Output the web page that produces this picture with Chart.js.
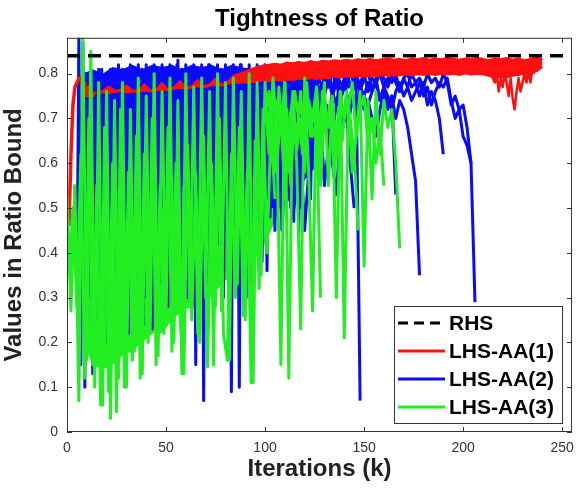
<!DOCTYPE html>
<html>
<head>
<meta charset="utf-8">
<script src="https://cdn.jsdelivr.net/npm/chart.js@4.4.1/dist/chart.umd.min.js"></script>
<style>
  body { margin: 0; background: #fff; }
  #wrap { width: 582px; height: 489px; }
</style>
</head>
<body>
<div id="wrap"><canvas id="chart" width="582" height="489"></canvas></div>
<script>
// ! AXIS DATA
const xTickValues = [0, 50, 100, 150, 200, 250];
const yTickValues = [0, 0.1, 0.2, 0.3, 0.4, 0.5, 0.6, 0.7, 0.8];
const xMax = 255;
const yMax = 0.88;
const rhsValue = 0.84;

// ! RED : LHS-AA(1)
const redStart = [0.46, 0.62, 0.73, 0.77, 0.78, 0.79, 0.79, 0.77, 0.78, 0.75, 0.77, 0.755, 0.75, 0.76]; // it 1..14
const redHigh = [0.759, 0.761, 0.772, 0.762, 0.764, 0.774, 0.763, 0.762, 0.776, 0.763, 0.765, 0.779, 0.765, 0.769,
  0.783, 0.769, 0.772, 0.786, 0.772, 0.776, 0.789, 0.776, 0.781, 0.795, 0.8, 0.805, 0.81, 0.815, 0.818, 0.82,
  0.822, 0.82, 0.825, 0.823, 0.826, 0.824, 0.828, 0.825, 0.829, 0.827, 0.83, 0.828, 0.831, 0.829, 0.832, 0.83,
  0.833, 0.83, 0.832, 0.834, 0.831, 0.833, 0.83, 0.834, 0.832, 0.835, 0.831, 0.834, 0.832, 0.835, 0.833, 0.831,
  0.834, 0.832, 0.835, 0.833, 0.83, 0.834, 0.832, 0.835, 0.831, 0.834, 0.83, 0.833, 0.836, 0.832]; // it 15..240 step 3
const redLow = [0.755, 0.758, 0.756, 0.759, 0.761, 0.758, 0.76, 0.759, 0.762, 0.76, 0.762, 0.765, 0.762, 0.766,
  0.768, 0.766, 0.769, 0.772, 0.769, 0.773, 0.775, 0.773, 0.777, 0.779, 0.779, 0.78, 0.781, 0.782, 0.785, 0.783,
  0.786, 0.784, 0.787, 0.786, 0.789, 0.787, 0.79, 0.788, 0.791, 0.79, 0.793, 0.791, 0.794, 0.792, 0.795, 0.793,
  0.796, 0.794, 0.797, 0.795, 0.797, 0.796, 0.798, 0.796, 0.799, 0.797, 0.799, 0.797, 0.8, 0.798, 0.8, 0.797,
  0.801, 0.798, 0.8, 0.798, 0.795, 0.79, 0.793, 0.792, 0.795, 0.797, 0.8, 0.802, 0.805, 0.815]; // it 15..240 step 3
const redDips = [0.8, 0.79, 0.78, 0.8, 0.76, 0.79, 0.77, 0.8, 0.78, 0.75, 0.79, 0.745, 0.72, 0.76, 0.79, 0.76,
  0.78, 0.8, 0.78, 0.81, 0.78, 0.81, 0.8]; // it 214..236

// ! BLUE : LHS-AA(2)
const blueA = [0.55, 0.3, 0.88, 0.15, 0.87, 0.1, 0.8, 0.4, 0.79, 0.13, 0.76, 0.45, 0.81, 0.12, 0.78, 0.35,
  0.8, 0.5, 0.81, 0.3, 0.8, 0.55, 0.82, 0.4, 0.81, 0.25, 0.8, 0.22, 0.82, 0.48, 0.8, 0.35, 0.82, 0.6, 0.81, 0.3,
  0.82, 0.45, 0.81, 0.23, 0.82, 0.55, 0.8, 0.38, 0.82, 0.5, 0.81, 0.28, 0.82, 0.62, 0.81, 0.42, 0.83, 0.35, 0.81,
  0.55, 0.82, 0.3, 0.81, 0.48, 0.82, 0.15, 0.8, 0.4, 0.82, 0.07, 0.81, 0.5, 0.82, 0.35, 0.8, 0.58, 0.82, 0.42,
  0.81, 0.3, 0.82, 0.55, 0.8, 0.09, 0.82, 0.45, 0.81, 0.1, 0.82, 0.38, 0.8, 0.52, 0.82, 0.33, 0.81, 0.6, 0.82,
  0.4, 0.8, 0.5, 0.82, 0.36, 0.81, 0.55, 0.8, 0.45, 0.81, 0.6, 0.79, 0.48, 0.8, 0.65, 0.79, 0.5, 0.8, 0.62, 0.78,
  0.44, 0.79, 0.55, 0.8, 0.68, 0.78, 0.52, 0.79]; // it 4..124
const blueB = [0.45, 0.8, 0.3, 0.78, 0.55, 0.8, 0.25, 0.77, 0.6, 0.81, 0.4, 0.79, 0.2, 0.8, 0.52, 0.78, 0.35,
  0.81, 0.62, 0.79, 0.44, 0.8, 0.28, 0.78, 0.58, 0.81, 0.38, 0.79, 0.5, 0.8, 0.24, 0.78, 0.63, 0.81, 0.42, 0.79,
  0.55, 0.8, 0.33, 0.78, 0.6, 0.81, 0.45, 0.79, 0.3, 0.8, 0.57, 0.82, 0.4, 0.79, 0.65, 0.81, 0.36, 0.8, 0.52,
  0.78, 0.28, 0.81, 0.6, 0.79, 0.44, 0.8, 0.33, 0.82, 0.56, 0.79, 0.4, 0.81, 0.62, 0.8, 0.35, 0.78, 0.5, 0.81,
  0.26, 0.79, 0.58, 0.8, 0.42, 0.82, 0.64, 0.79, 0.3, 0.81, 0.55, 0.8, 0.45, 0.78, 0.62, 0.81, 0.38, 0.8, 0.56,
  0.79, 0.48, 0.81, 0.64, 0.78, 0.52, 0.8, 0.45, 0.77, 0.66, 0.79, 0.55, 0.78, 0.47, 0.8, 0.6, 0.77, 0.5, 0.79,
  0.62, 0.76, 0.55, 0.78, 0.6]; // it 8.5..124.5
const blueRun1 = [0.8, 0.76, 0.79, 0.73, 0.78, 0.75, 0.8, 0.7, 0.77, 0.74, 0.79, 0.72, 0.76, 0.78, 0.73, 0.77,
  0.79, 0.75, 0.78, 0.74, 0.77, 0.79, 0.76, 0.78, 0.07];
const blueRun2 = [0.72, 0.65, 0.7, 0.58, 0.66, 0.52, 0.6, 0.48, 0.55, 0.62, 0.45, 0.58, 0.66, 0.6, 0.7, 0.55,
  0.64, 0.6, 0.53, 0.66, 0.72, 0.68, 0.75, 0.7, 0.76, 0.72, 0.74, 0.7, 0.66, 0.72, 0.76, 0.73, 0.75, 0.53];
const blueRun3 = [0.79, 0.77, 0.8, 0.78, 0.76, 0.79, 0.77, 0.8, 0.78, 0.75, 0.79, 0.77, 0.8, 0.78, 0.76, 0.79,
  0.77, 0.8, 0.78, 0.76, 0.79, 0.77, 0.78, 0.8, 0.77, 0.75, 0.78, 0.76, 0.79, 0.74, 0.77, 0.72, 0.75, 0.7, 0.74,
  0.72, 0.68, 0.62, 0.56, 0.35];
const blueRun4 = [0.76, 0.79, 0.74, 0.78, 0.8, 0.77, 0.79, 0.75, 0.78, 0.8, 0.76, 0.79, 0.77, 0.8, 0.78, 0.75,
  0.79, 0.76, 0.8, 0.78, 0.77, 0.79, 0.8, 0.78, 0.76, 0.79, 0.8, 0.77, 0.78, 0.8, 0.79, 0.77, 0.8, 0.78, 0.76,
  0.79, 0.8, 0.77, 0.78, 0.75, 0.78, 0.73, 0.76, 0.74, 0.7, 0.62];
const blueRun5 = [0.78, 0.8, 0.77, 0.79, 0.76, 0.8, 0.78, 0.77, 0.79, 0.8, 0.78, 0.76, 0.79, 0.77, 0.8, 0.78,
  0.79, 0.77, 0.8, 0.76, 0.78, 0.8, 0.79, 0.77, 0.78, 0.8, 0.76, 0.79, 0.78, 0.8, 0.77, 0.79, 0.78, 0.8, 0.76,
  0.79, 0.77, 0.8, 0.78, 0.79, 0.77, 0.8, 0.78, 0.79, 0.77, 0.8, 0.78, 0.73, 0.75, 0.72, 0.73, 0.68, 0.6, 0.29];
const blueRun6 = [0.74, 0.7, 0.76, 0.66, 0.72, 0.75, 0.68, 0.73, 0.77, 0.71, 0.74, 0.69, 0.75, 0.72, 0.77, 0.74,
  0.7, 0.76, 0.73, 0.75, 0.78, 0.74, 0.76, 0.72, 0.77, 0.75, 0.73, 0.76, 0.78, 0.74, 0.77, 0.75, 0.72, 0.76,
  0.78, 0.75, 0.77, 0.74, 0.76, 0.78, 0.75, 0.77, 0.73, 0.76, 0.78, 0.77, 0.79, 0.74, 0.7, 0.72, 0.66, 0.64, 0.6];
const blueRun7 = [0.6, 0.7, 0.52, 0.66, 0.58, 0.72, 0.5, 0.64, 0.7, 0.56, 0.68, 0.74, 0.6, 0.7, 0.66, 0.73, 0.62,
  0.7, 0.76, 0.68, 0.72, 0.6, 0.5];

// ! DENSE CORE OF THE RUNS (it 8..128 step 5): blue on top, green below
const blueTopEdge = [0.8, 0.81, 0.8, 0.815, 0.81, 0.82, 0.81, 0.82, 0.815, 0.82, 0.81, 0.82, 0.815, 0.82, 0.81,
  0.82, 0.815, 0.81, 0.8, 0.8, 0.79, 0.79, 0.78, 0.78, 0.77];
const blueBaseEdge = [0.55, 0.58, 0.55, 0.6, 0.57, 0.6, 0.58, 0.62, 0.6, 0.62, 0.6, 0.63, 0.6, 0.62, 0.6, 0.6,
  0.58, 0.55, 0.52, 0.5, 0.5, 0.52, 0.55, 0.58, 0.6];
const greenBaseEdge = [0.2, 0.15, 0.14, 0.15, 0.17, 0.18, 0.2, 0.22, 0.22, 0.25, 0.27, 0.28, 0.3, 0.3, 0.33, 0.35,
  0.36, 0.38, 0.4, 0.45, 0.5, 0.52, 0.55, 0.58, 0.6];

// ! GREEN : LHS-AA(3)
const greenA = [0.53, 0.27, 0.55, 0.07, 0.88, 0.16, 0.85, 0.1, 0.78, 0.06, 0.76, 0.03, 0.74, 0.12, 0.78, 0.1,
  0.72, 0.18, 0.79, 0.13, 0.75, 0.22, 0.8, 0.17, 0.76, 0.25, 0.79, 0.2, 0.74, 0.13, 0.8, 0.28, 0.77, 0.22, 0.79,
  0.3, 0.76, 0.15, 0.8, 0.27, 0.78, 0.16, 0.79, 0.33, 0.76, 0.25, 0.8, 0.11, 0.78, 0.35, 0.78, 0.62, 0.79, 0.66,
  0.15, 0.78, 0.12, 0.76, 0.6, 0.23, 0.79, 0.58, 0.27, 0.77, 0.65, 0.78, 0.55, 0.74, 0.3, 0.76, 0.21, 0.72, 0.78,
  0.66, 0.76, 0.37, 0.74, 0.52, 0.76, 0.62, 0.74, 0.68, 0.72, 0.6, 0.41]; // it 0..168 step 2
const greenB = [0.35, 0.5, 0.28, 0.62, 0.12, 0.7, 0.15, 0.55, 0.06, 0.68, 0.09, 0.6, 0.045, 0.72, 0.1, 0.58,
  0.16, 0.66, 0.12, 0.62, 0.2, 0.7, 0.15, 0.55, 0.22, 0.68, 0.18, 0.6, 0.26, 0.13, 0.64, 0.25, 0.58, 0.2, 0.66,
  0.145, 0.6, 0.28, 0.7, 0.22, 0.16, 0.62, 0.3, 0.68, 0.26, 0.58, 0.11, 0.65, 0.32, 0.72, 0.4, 0.68, 0.52]; // it 1..105 step 2
const greenRun1 = [0.7, 0.76, 0.62, 0.74, 0.68, 0.78, 0.58, 0.72, 0.66, 0.76, 0.6, 0.74, 0.7, 0.77, 0.55, 0.72,
  0.68, 0.75, 0.62, 0.76, 0.7, 0.74, 0.58, 0.66, 0.72, 0.75, 0.64, 0.7, 0.6, 0.68, 0.55];
const greenRun2 = [0.74, 0.66, 0.78, 0.6, 0.72, 0.52, 0.68, 0.75, 0.63, 0.7, 0.58, 0.74, 0.66, 0.69, 0.3];
const greenRun3 = [0.66, 0.74, 0.58, 0.77, 0.64, 0.72, 0.55, 0.76, 0.7, 0.62, 0.78, 0.66, 0.73, 0.6, 0.76, 0.68,
  0.74, 0.57, 0.72, 0.65, 0.76, 0.7, 0.62, 0.45];
const tailStart = 100;

const RED = "#ff1010";
const BLUE = "#0a0aff";
const GREEN = "#22ee22";
const FONT = '"Liberation Sans", Arial, Helvetica, sans-serif';

function series(label, color, start, step, values, extra) {
  return Object.assign(
    {
      label: label,
      data: values.map((y, i) => ({ x: start + i * step, y: y })),
      borderColor: color,
      backgroundColor: color,
      borderWidth: 3,
      pointRadius: 0,
      tension: 0,
      borderJoinStyle: "round",
      fill: false,
    },
    extra || {}
  );
}

// ! MATLAB STYLE BOX + INWARD TICKS
const matlabAxes = {
  id: "matlabAxes",
  afterDatasetsDraw(chart) {
    const { ctx, chartArea: a, scales } = chart;
    ctx.save();
    ctx.strokeStyle = "#333";
    ctx.lineWidth = 1;
    ctx.strokeRect(a.left + 0.5, a.top + 0.5, a.width - 1, a.height - 1);
    ctx.beginPath();
    scales.x.ticks.forEach((t) => {
      const px = Math.round(scales.x.getPixelForValue(t.value)) + 0.5;
      ctx.moveTo(px, a.bottom);
      ctx.lineTo(px, a.bottom - 5);
      ctx.moveTo(px, a.top);
      ctx.lineTo(px, a.top + 5);
    });
    scales.y.ticks.forEach((t) => {
      const py = Math.round(scales.y.getPixelForValue(t.value)) + 0.5;
      ctx.moveTo(a.left, py);
      ctx.lineTo(a.left + 5, py);
      ctx.moveTo(a.right, py);
      ctx.lineTo(a.right - 5, py);
    });
    ctx.stroke();
    ctx.restore();
  },
};

// ! LEGEND INSIDE THE AXES (lower right)
const insideLegend = {
  id: "insideLegend",
  afterDraw(chart) {
    const { ctx, chartArea: a } = chart;
    const items = chart.data.datasets
      .filter((d) => d.legendOrder !== undefined)
      .sort((p, q) => p.legendOrder - q.legendOrder);
    const boxW = 168, boxH = 117;
    const left = a.right - 10 - boxW;
    const top = a.bottom - 9 - boxH;
    ctx.save();
    ctx.fillStyle = "#fff";
    ctx.fillRect(left, top, boxW, boxH);
    ctx.strokeStyle = "#333";
    ctx.lineWidth = 1;
    ctx.strokeRect(left + 0.5, top + 0.5, boxW, boxH);
    ctx.font = "bold 21px " + FONT;
    ctx.textBaseline = "middle";
    items.forEach((d, i) => {
      const y = top + 17 + i * 28;
      ctx.strokeStyle = d.borderColor;
      ctx.lineWidth = 3;
      ctx.setLineDash(d.borderDash ? [10, 6] : []);
      ctx.beginPath();
      ctx.moveTo(left + 4, y);
      ctx.lineTo(left + 51, y);
      ctx.stroke();
      ctx.setLineDash([]);
      ctx.fillStyle = "#000";
      ctx.fillText(d.label, left + 55, y + 1);
    });
    ctx.restore();
  },
};

// first dataset is drawn on top
const datasets = [
  {
    label: "RHS",
    data: [{ x: 0, y: rhsValue }, { x: xMax, y: rhsValue }],
    borderColor: "#000",
    borderWidth: 3.5,
    borderDash: [13, 8],
    pointRadius: 0,
    fill: false,
    legendOrder: 0,
  },
  series("LHS-AA(3)", GREEN, 0, 2, greenA, { legendOrder: 3 }),
  series("LHS-AA(3)", GREEN, 1, 2, greenB),
  series("LHS-AA(3)", GREEN, tailStart, 2, greenRun1),
  series("LHS-AA(3)", GREEN, tailStart, 2, greenRun2),
  series("LHS-AA(3)", GREEN, tailStart + 1, 2, greenRun3),
  series("LHS-AA(1)", RED, 1, 1, redStart, { borderWidth: 3.5 }),
  series("LHS-AA(1)", RED, 15, 3, redHigh, { borderWidth: 2, fill: "+1", legendOrder: 1 }),
  series("LHS-AA(1)", RED, 15, 3, redLow, { borderWidth: 2 }),
  series("LHS-AA(1)", RED, 214, 1, redDips, { borderWidth: 2.5 }),
  series("LHS-AA(2)", BLUE, 4, 1, blueA, { legendOrder: 2 }),
  series("LHS-AA(2)", BLUE, 8.5, 1, blueB),
  series("LHS-AA(2)", BLUE, tailStart, 2, blueRun1),
  series("LHS-AA(2)", BLUE, tailStart, 2, blueRun2),
  series("LHS-AA(2)", BLUE, tailStart, 2, blueRun3),
  series("LHS-AA(2)", BLUE, tailStart, 2, blueRun4),
  series("LHS-AA(2)", BLUE, tailStart, 2, blueRun5),
  series("LHS-AA(2)", BLUE, tailStart, 2, blueRun6),
  series("LHS-AA(2)", BLUE, tailStart + 1, 2, blueRun7),
  series("LHS-AA(2)", BLUE, 8, 5, blueTopEdge, { borderWidth: 0, fill: "+1" }),
  series("LHS-AA(2)", BLUE, 8, 5, blueBaseEdge, { borderWidth: 0 }),
  series("LHS-AA(3)", GREEN, 8, 5, blueBaseEdge, { borderWidth: 0, fill: "+1" }),
  series("LHS-AA(3)", GREEN, 8, 5, greenBaseEdge, { borderWidth: 0 }),
];

new Chart(document.getElementById("chart").getContext("2d"), {
  type: "line",
  data: { datasets: datasets },
  options: {
    responsive: false,
    animation: false,
    devicePixelRatio: 1,
    layout: { padding: { left: 0, right: 5, top: 0, bottom: 0 } },
    plugins: {
      legend: { display: false },
      tooltip: { enabled: false },
      title: {
        display: true,
        text: "Tightness of Ratio",
        color: "#000",
        fullSize: false,
        font: { family: FONT, size: 24, weight: "bold" },
        padding: { top: 5, bottom: 4 },
      },
    },
    scales: {
      x: {
        type: "linear",
        min: 0,
        max: xMax,
        afterBuildTicks: (s) => { s.ticks = xTickValues.map((v) => ({ value: v })); },
        afterFit: (s) => { s.height = 57; },
        grid: { display: false, drawTicks: false, tickLength: 0 },
        border: { display: false },
        ticks: { color: "#333", padding: 8, maxRotation: 0, font: { family: FONT, size: 14 }, callback: (v) => String(v) },
        title: {
          display: true,
          text: "Iterations (k)",
          color: "#222",
          font: { family: FONT, size: 24, weight: "bold" },
          padding: { top: 0, bottom: 5 },
        },
      },
      y: {
        type: "linear",
        min: 0,
        max: yMax,
        afterBuildTicks: (s) => { s.ticks = yTickValues.map((v) => ({ value: v })); },
        afterFit: (s) => { s.width = 67; },
        grid: { display: false, drawTicks: false, tickLength: 0 },
        border: { display: false },
        ticks: { color: "#333", padding: 9, font: { family: FONT, size: 14 }, callback: (v) => String(v) },
        title: {
          display: true,
          text: "Values in Ratio Bound",
          color: "#222",
          font: { family: FONT, size: 24, weight: "bold" },
          padding: { top: 0, bottom: 0 },
        },
      },
    },
  },
  plugins: [matlabAxes, insideLegend],
});
</script>
</body>
</html>
